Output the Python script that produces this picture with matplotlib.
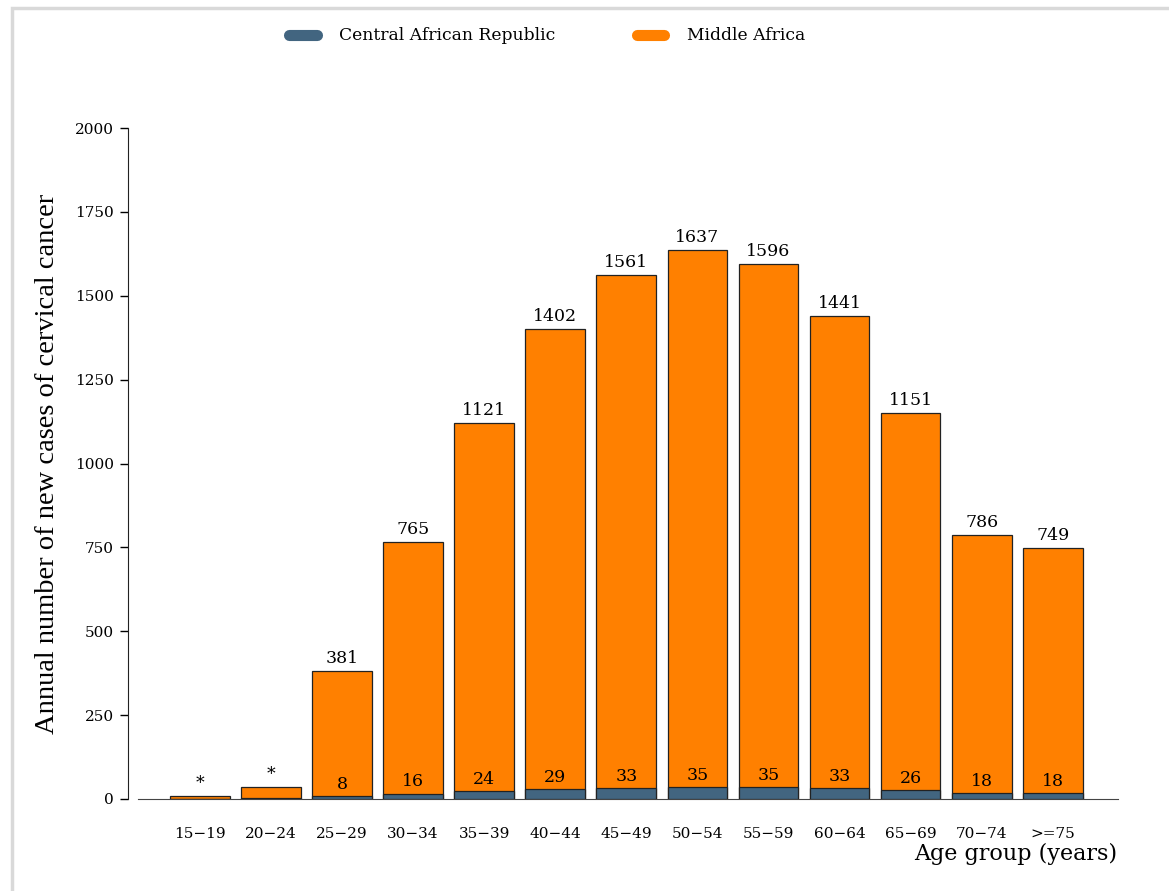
import matplotlib.pyplot as plt
from matplotlib.lines import Line2D
from matplotlib.patches import Rectangle

# =========================
# data
# =========================
age_groups = ["15\u221219", "20\u221224", "25\u221229", "30\u221234", "35\u221239", "40\u221244",
              "45\u221249", "50\u221254", "55\u221259", "60\u221264", "65\u221269", "70\u221274", ">=75"]
middle_africa = [10, 35, 381, 765, 1121, 1402, 1561, 1637, 1596, 1441, 1151, 786, 749]
car = [1, 2, 8, 16, 24, 29, 33, 35, 35, 33, 26, 18, 18]
ma_labels = ["*", "*", "381", "765", "1121", "1402", "1561", "1637", "1596", "1441", "1151", "786", "749"]
car_labels = ["", "", "8", "16", "24", "29", "33", "35", "35", "33", "26", "18", "18"]

orange = "#ff8000"
slate = "#426580"
serif = "DejaVu Serif"

fig = plt.figure(figsize=(11.69, 8.91), dpi=100)
ax = fig.add_axes([128 / 1169, 92 / 891, 989.5 / 1169, 671 / 891])

x = list(range(len(age_groups)))
ax.bar(x, middle_africa, width=0.84, color=orange, edgecolor="#222222", linewidth=0.9, zorder=2)
ax.bar(x, car, width=0.84, color=slate, edgecolor="#222222", linewidth=0.9, zorder=3)

for i in x:
    ax.text(i, middle_africa[i] + 12, ma_labels[i], ha="center", va="bottom",
            fontsize=12.5, family=serif, zorder=4)
    if car_labels[i]:
        ax.text(i, car[i] + 10, car_labels[i], ha="center", va="bottom",
                fontsize=12.5, family=serif, zorder=4)

ax.set_xlim(-1.01, 12.91)
ax.set_ylim(0, 2000)
ax.set_yticks([0, 250, 500, 750, 1000, 1250, 1500, 1750, 2000])
ax.set_xticks(x)
ax.set_xticklabels(age_groups, family=serif, fontsize=11)
for lab in ax.get_yticklabels():
    lab.set_family(serif)
    lab.set_fontsize(11)
ax.tick_params(axis="x", length=0, pad=20)
ax.tick_params(axis="y", length=6, width=1, direction="out", pad=4)

for s in ["top", "right"]:
    ax.spines[s].set_visible(False)
ax.spines["bottom"].set_bounds(-0.87, 12.91)
ax.spines["bottom"].set_color("#444444")
ax.spines["left"].set_color("#222222")

ax.set_ylabel("Annual number of new cases of cervical cancer",
              family="Liberation Serif", fontsize=20.5)
ax.yaxis.set_label_coords(-68 / 989.5, 0.5)
ax.set_xlabel("Age group (years)", family=serif, fontsize=16)
ax.xaxis.set_label_coords(1.0, -0.065)
ax.xaxis.label.set_horizontalalignment("right")

handles = [Line2D([], [], color=slate, linewidth=8, solid_capstyle="round"),
           Line2D([], [], color=orange, linewidth=8, solid_capstyle="round")]
fig.legend(handles, ["Central African Republic", "Middle Africa"], loc="center",
           bbox_to_anchor=(547 / 1169, 1 - 36 / 891), ncol=2, frameon=False,
           prop={"family": serif, "size": 12.3}, columnspacing=4.8, handlelength=1.6,
           handletextpad=1.3)

# light border
fig.patches.append(Rectangle((12 / 1169, -0.1), 1.2, 1.1 - 8 / 891,
                             transform=fig.transFigure, fill=False,
                             edgecolor="#d9d9d9", linewidth=2.5))

plt.savefig("out.png", dpi=100)
